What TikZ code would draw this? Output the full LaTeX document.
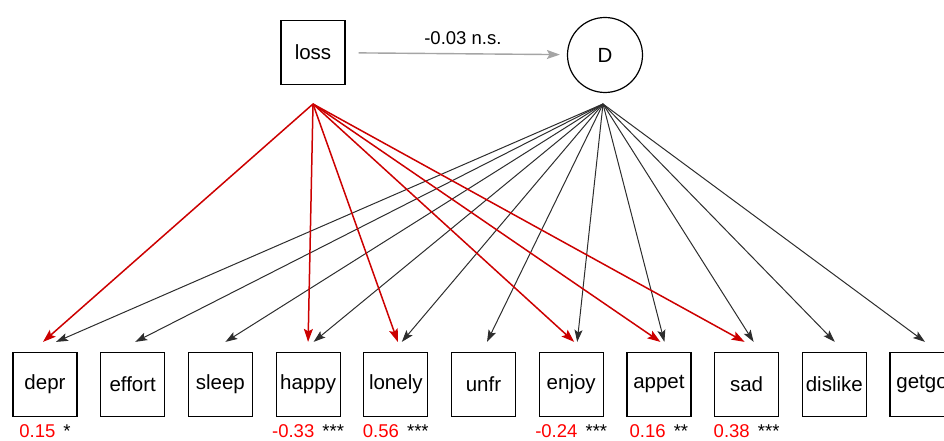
\documentclass[tikz,border=0pt]{standalone}
\usepackage{fontspec}
\setmainfont{Liberation Sans}
\usetikzlibrary{positioning,arrows.meta}

\definecolor{pathred}{RGB}{204,0,0}
\definecolor{estred}{RGB}{255,0,0}
\definecolor{nsgray}{RGB}{165,165,165}
\definecolor{loadgray}{RGB}{45,45,45}

\tikzset{
  manifest/.style={draw, rectangle, line width=1.2pt, minimum size=64pt, inner sep=0pt, font=\fontsize{20.5}{20.5}\selectfont},
  latentvar/.style={draw, circle, line width=1.2pt, minimum size=75pt, inner sep=0pt, font=\fontsize{20.5}{20.5}\selectfont},
  dif/.style={pathred, line width=1.5pt, -{Stealth[length=13pt, width=9pt, inset=2.5pt]}},
  load/.style={loadgray, line width=1pt, -{Stealth[length=12pt, width=8pt, inset=2.5pt]}},
  est/.style={anchor=base, font=\fontsize{18.5}{18.5}\selectfont}
}

\begin{document}
\begin{tikzpicture}[x=1pt, y=1pt, node distance=22.5pt]
    \useasboundingbox (0,0) rectangle (944,441);

    % Nodes
    \node (loss) [manifest] at (313,388.5) {loss};
    \node (D) [latentvar] at (605,386) {D};
    \coordinate (lossout) at (313,337);
    \coordinate (Dout) at (603,337);

    \node (depr) [manifest] at (45,56.5) {depr};
    \node (effort) [manifest, right=of depr] {effort};
    \node (sleep) [manifest, right=of effort] {sleep};
    \node (happy) [manifest, right=of sleep] {happy};
    \node (lonely) [manifest, right=of happy] {lonely};
    \node (unfr) [manifest, right=of lonely] {unfr};
    \node (enjoy) [manifest, right=of unfr] {enjoy};
    \node (appet) [manifest, right=of enjoy] {appet};
    \node (sad) [manifest, right=of appet] {sad};
    \node (dislike) [manifest, right=of sad] {dislike};
    \node (getgo) [manifest, right=of dislike] {getgo};

    % Arrow ends above the boxes
    \coordinate (deprR) at ([shift={(-2,10)}]depr.north);
    \coordinate (deprB) at ([shift={(11,10)}]depr.north);
    \coordinate (effortB) at ([shift={(2.5,10)}]effort.north);
    \coordinate (sleepB) at ([shift={(5,10)}]sleep.north);
    \coordinate (happyR) at ([shift={(0,10)}]happy.north);
    \coordinate (happyB) at ([shift={(5.5,10)}]happy.north);
    \coordinate (lonelyR) at ([shift={(2,10)}]lonely.north);
    \coordinate (lonelyB) at ([shift={(6,10)}]lonely.north);
    \coordinate (unfrB) at ([shift={(3.5,10)}]unfr.north);
    \coordinate (enjoyR) at ([shift={(3,10)}]enjoy.north);
    \coordinate (enjoyB) at ([shift={(6,10)}]enjoy.north);
    \coordinate (appetR) at ([shift={(1.5,10)}]appet.north);
    \coordinate (appetB) at ([shift={(5.5,10)}]appet.north);
    \coordinate (sadR) at ([shift={(-2,10)}]sad.north);
    \coordinate (sadB) at ([shift={(7,10)}]sad.north);
    \coordinate (dislikeB) at ([shift={(0.5,10)}]dislike.north);
    \coordinate (getgoB) at ([shift={(3,10)}]getgo.north);

    % Arrows
    \draw[nsgray, line width=1.4pt, -{Stealth[length=13pt, width=9pt, inset=2.5pt]}, shorten <=13pt, shorten >=7pt]
        (loss) -- (D) node[pos=0.53, above=5pt, black, font=\fontsize{18.5}{18.5}\selectfont] {-0.03 n.s.};

    \draw[load] (Dout) -- (deprB);
    \draw[load] (Dout) -- (effortB);
    \draw[load] (Dout) -- (sleepB);
    \draw[load] (Dout) -- (happyB);
    \draw[load] (Dout) -- (lonelyB);
    \draw[load] (Dout) -- (unfrB);
    \draw[load] (Dout) -- (enjoyB);
    \draw[load] (Dout) -- (appetB);
    \draw[load] (Dout) -- (sadB);
    \draw[load] (Dout) -- (dislikeB);
    \draw[load] (Dout) -- (getgoB);

    \draw[dif] (lossout) -- (deprR);
    \draw[dif] (lossout) -- (happyR);
    \draw[dif] (lossout) -- (lonelyR);
    \draw[dif] (lossout) -- (enjoyR);
    \draw[dif] (lossout) -- (appetR);
    \draw[dif] (lossout) -- (sadR);

    % Estimates
    \node (deprest) [est] at (depr |- 0,3) {\textcolor{estred}{0.15}\hspace{3pt} *};
    \node (happyest) [est] at (happy |- 0,3) {\textcolor{estred}{-0.33}\hspace{3pt} ***};
    \node (lonelyest) [est] at (lonely |- 0,3) {\textcolor{estred}{0.56}\hspace{3pt} ***};
    \node (enjoyest) [est] at (enjoy |- 0,3) {\textcolor{estred}{-0.24}\hspace{3pt} ***};
    \node (appetest) [est] at (appet |- 0,3) {\textcolor{estred}{0.16}\hspace{3pt} **};
    \node (sadest) [est] at (sad |- 0,3) {\textcolor{estred}{0.38}\hspace{3pt} ***};
\end{tikzpicture}
\end{document}
